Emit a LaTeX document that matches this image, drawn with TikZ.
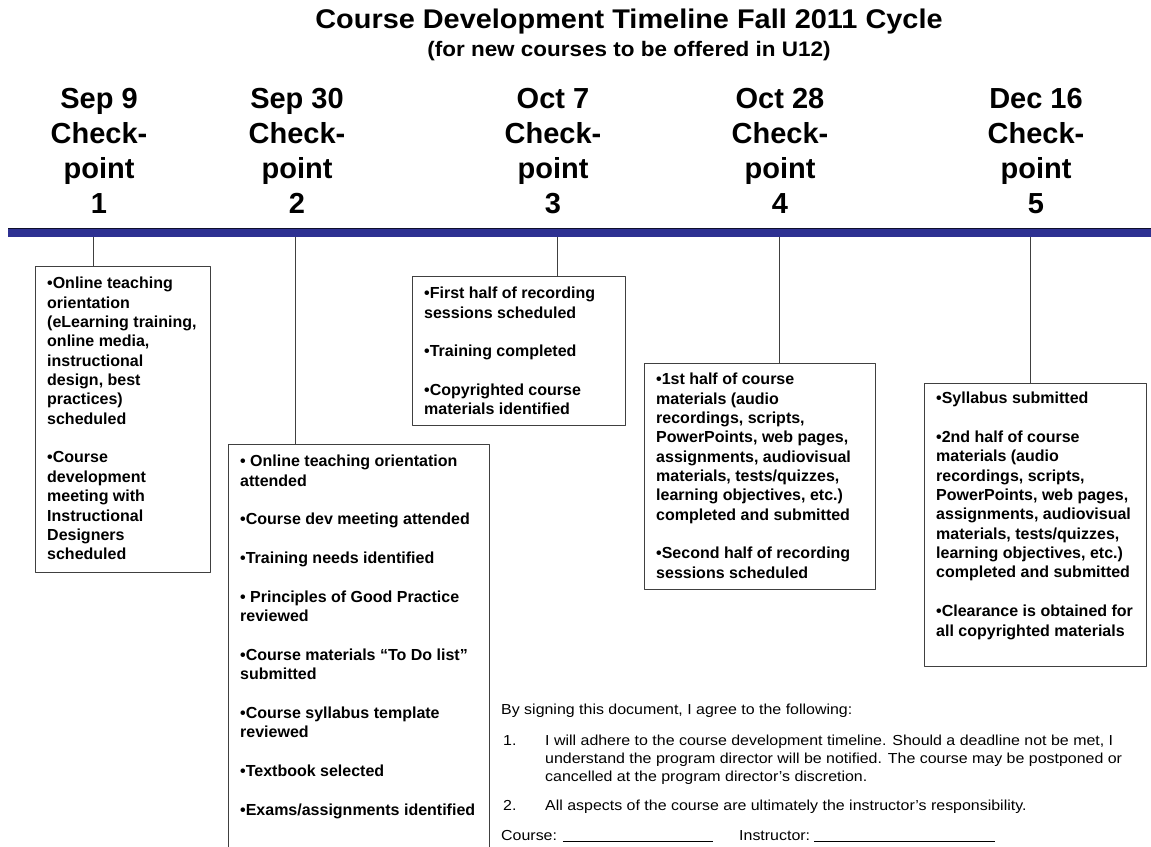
\documentclass[tikz,border=0pt]{standalone}
\usepackage{fontspec}
\setmainfont{Liberation Sans}
\newfontfamily\titlefont[FakeStretch=1.07]{Liberation Sans}
\newfontfamily\sigfont[FakeStretch=1.1]{Liberation Sans}
\definecolor{barblue}{RGB}{46,49,146}
\definecolor{edge}{RGB}{64,64,64}
\begin{document}
\begin{tikzpicture}[x=1pt, y=-1pt, line join=round,
	cbox/.style={draw=edge, line width=1pt, inner sep=0pt, anchor=north west},
	btext/.style={anchor=north west, inner sep=0pt, align=left, font=\fontsize{16}{19.35}\selectfont\bfseries},
	chk/.style={align=center, inner sep=0pt, font=\fontsize{29}{35}\selectfont\bfseries},
	tick/.style={draw=edge, line width=1pt},
	sig/.style={anchor=base west, inner sep=0pt, align=left, font=\sigfont\fontsize{14.5}{18.4}\selectfont}]
	\clip (0,0) rectangle (1151,846);
	\fill[white] (0,0) rectangle (1151,846);
	\def\gap{\\[19.35pt]} % leerzeile zwischen punkten
	% titel
	\node[font=\titlefont\fontsize{27}{32}\selectfont\bfseries] (title) at (629,22) {Course Development Timeline Fall 2011 Cycle};
	\node[font=\titlefont\fontsize{21}{26}\selectfont\bfseries] (sub) at (629,51) {(for new courses to be offered in U12)};
	% zeitleiste
	\fill[barblue] (8,228) rectangle (1151,237);
	\draw[black!70!barblue, line width=0.8pt] (8,228)--(1151,228);
	\coordinate (c1) at (93,237);
	\coordinate (c2) at (295,237);
	\coordinate (c3) at (557,237);
	\coordinate (c4) at (779,237);
	\coordinate (c5) at (1030,237);
	\node[chk] (h1) at (99,151) {Sep 9\\Check-\\point\\1};
	\node[chk] (h2) at (297,151) {Sep 30\\Check-\\point\\2};
	\node[chk] (h3) at (553,151) {Oct 7\\Check-\\point\\3};
	\node[chk] (h4) at (780,151) {Oct 28\\Check-\\point\\4};
	\node[chk] (h5) at (1036,151) {Dec 16\\Check-\\point\\5};
	% kaesten
	\node[cbox, minimum width=175, minimum height=306] (b1) at (35,266) {};
	\node[cbox, minimum width=261, minimum height=430] (b2) at (228,444) {};
	\node[cbox, minimum width=213, minimum height=149] (b3) at (412,276) {};
	\node[cbox, minimum width=231, minimum height=226] (b4) at (644,363) {};
	\node[cbox, minimum width=222, minimum height=283] (b5) at (924,383) {};
	\foreach \i in {1,...,5} \draw[tick] (c\i)--(c\i |- b\i.north);
	\node[btext] (t1) at (47,277) {•Online teaching\\orientation\\(eLearning training,\\online media,\\instructional\\design, best\\practices)\\scheduled\gap
		•Course\\development\\meeting with\\Instructional\\Designers\\scheduled};
	\node[btext] (t2) at (240,455) {• Online teaching orientation\\attended\gap
		•Course dev meeting attended\gap
		•Training needs identified\gap
		• Principles of Good Practice\\reviewed\gap
		•Course materials “To Do list”\\submitted\gap
		•Course syllabus template\\reviewed\gap
		•Textbook selected\gap
		•Exams/assignments identified};
	\node[btext] (t3) at (424,287) {•First half of recording\\sessions scheduled\gap
		•Training completed\gap
		•Copyrighted course\\materials identified};
	\node[btext] (t4) at (656,373) {•1st half of course\\materials (audio\\recordings, scripts,\\PowerPoints, web pages,\\assignments, audiovisual\\materials, tests/quizzes,\\learning objectives, etc.)\\completed and submitted\gap
		•Second half of recording\\sessions scheduled};
	\node[btext] (t5) at (936,392) {•Syllabus submitted\gap
		•2nd half of course\\materials (audio\\recordings, scripts,\\PowerPoints, web pages,\\assignments, audiovisual\\materials, tests/quizzes,\\learning objectives, etc.)\\completed and submitted\gap
		•Clearance is obtained for\\all copyrighted materials};
	% unterschrift
	\node[sig] (s0) at (501,714) {By signing this document, I agree to the following:};
	\node[sig] (n1) at (503,745) {1.};
	\node[sig, anchor=north west] (p1) at (545,734.4) {I will adhere to the course development timeline. Should a deadline not be met, I\\understand the program director will be notified. The course may be postponed or\\cancelled at the program director’s discretion.};
	\node[sig] (n2) at (503,810) {2.};
	\node[sig] (p2) at (545,810) {All aspects of the course are ultimately the instructor’s responsibility.};
	\node[sig] (course) at (501,840) {Course: \rule[-2pt]{150pt}{0.8pt}};
	\node[sig] (instr) at (739,840) {Instructor:\hspace{-1.6pt} \rule[-2pt]{181pt}{0.8pt}};
\end{tikzpicture}
\end{document}
